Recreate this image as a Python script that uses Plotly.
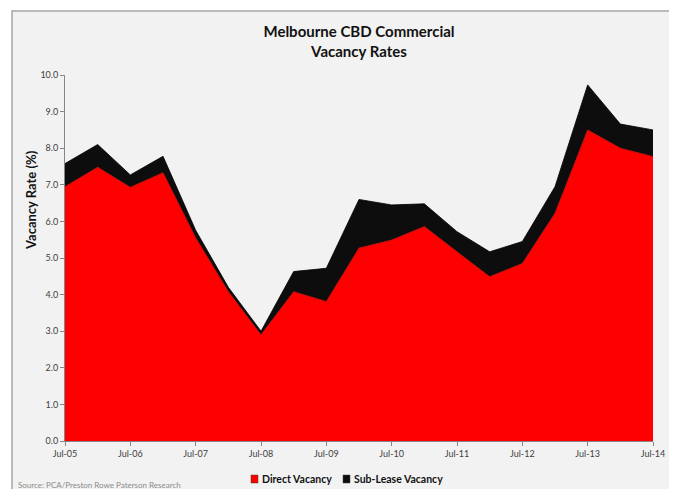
import plotly.graph_objects as go

periods = ["Jul-05", "Jan-06", "Jul-06", "Jan-07", "Jul-07", "Jan-08", "Jul-08", "Jan-09",
           "Jul-09", "Jan-10", "Jul-10", "Jan-11", "Jul-11", "Jan-12", "Jul-12", "Jan-13",
           "Jul-13", "Jan-14", "Jul-14"]
direct_vacancy = [6.95, 7.48, 6.93, 7.33, 5.55, 4.08, 2.9, 4.08, 3.81, 5.27, 5.49, 5.86,
                  5.17, 4.49, 4.85, 6.22, 8.5, 8.0, 7.77]
total_vacancy = [7.58, 8.1, 7.27, 7.78, 5.76, 4.2, 3.0, 4.63, 4.72, 6.6, 6.45, 6.48,
                 5.72, 5.17, 5.45, 6.95, 9.73, 8.66, 8.5]
sublease_vacancy = [round(t - d, 2) for t, d in zip(total_vacancy, direct_vacancy)]
tick_labels = periods[::2]
y_ticks = [0, 1, 2, 3, 4, 5, 6, 7, 8, 9, 10]
series_names = ["Direct Vacancy", "Sub-Lease Vacancy"]
series_fill = ["#ff0000", "#0d0d0d"]
series_line = ["#c00000", "#000000"]

font_fam = "Lato, 'Open Sans', Arial, sans-serif"

fig = go.Figure()
for name, vals, fc, lc in zip(series_names, [direct_vacancy, sublease_vacancy], series_fill, series_line):
    fig.add_trace(go.Scatter(
        x=periods, y=vals, name=name, stackgroup="one", showlegend=False,
        mode="lines", line=dict(color=lc, width=0.8), fillcolor=fc,
    ))

# page body adds an 8px offset; design in window pixels and subtract it
OFF = 8
W, H = 677 - OFF, 489 - OFF
L = 65 - OFF
R = W - (653 - OFF)
T = 75 - OFF
B = H - (441 - OFF)
pw, ph = W - L - R, H - T - B


def px_x(wx):
    return (wx - OFF - L) / pw


def px_y(wy):
    return (T + ph - (wy - OFF)) / ph


shapes = [dict(type="rect", xref="paper", yref="paper", layer="below",
               x0=px_x(12), x1=px_x(673), y0=px_y(495), y1=px_y(11),
               fillcolor="#f2f2f2", line=dict(color="#a6a6a6", width=1.5))]
annotations = [
    dict(text="Source: PCA/Preston Rowe Paterson Research", xref="paper",
         yref="paper", x=px_x(16), y=px_y(485), xanchor="left",
         yanchor="middle", showarrow=False,
         font=dict(size=8, color="#8c8c8c", family=font_fam)),
    dict(text="<b>Vacancy Rate (%)</b>", xref="paper", yref="paper",
         x=px_x(31), y=px_y(200), xanchor="center", yanchor="middle",
         textangle=-90, showarrow=False,
         font=dict(size=13, color="#111111", family=font_fam)),
]

# custom legend (square keys + bold labels)
legend_key_x = [251, 343]
legend_y = 479
for name, fc, kx in zip(series_names, series_fill, legend_key_x):
    shapes.append(dict(type="rect", xref="paper", yref="paper",
                       x0=px_x(kx), x1=px_x(kx + 7), y0=px_y(legend_y + 4), y1=px_y(legend_y - 4),
                       fillcolor=fc, line=dict(color="#404040", width=0.5)))
    annotations.append(dict(text="<b>" + name + "</b>", xref="paper", yref="paper",
                            x=px_x(kx + 9), y=px_y(legend_y), xanchor="left", yanchor="middle",
                            showarrow=False,
                            font=dict(size=10.5, color="#111111", family=font_fam)))

fig.update_layout(
    width=W, height=H,
    paper_bgcolor="white", plot_bgcolor="rgba(0,0,0,0)",
    margin=dict(l=L, r=R, t=T, b=B, autoexpand=False),
    font=dict(family=font_fam, color="#404040"),
    title=dict(text="<b>Melbourne CBD Commercial<br>Vacancy Rates</b>",
               x=0.5, xref="paper", xanchor="center", y=1 - 29 / H, yref="container",
               yanchor="middle",
               font=dict(size=15, color="#111111", family=font_fam)),
    showlegend=False,
    xaxis=dict(type="category", range=[0, len(periods) - 1], automargin=False,
               tickmode="array", tickvals=tick_labels, ticktext=tick_labels,
               showgrid=False, showline=True, linecolor="#868686", linewidth=1,
               ticks="outside", ticklen=4, tickcolor="#868686",
               tickfont=dict(size=9, color="#404040"), zeroline=False),
    yaxis=dict(range=[0, 10], tickmode="array", tickvals=y_ticks, tickformat=".1f",
               automargin=False,
               showgrid=False, showline=True, linecolor="#868686", linewidth=1,
               ticks="outside", ticklen=4, tickcolor="#868686",
               tickfont=dict(size=9, color="#404040"), zeroline=False),
    shapes=shapes,
    annotations=annotations,
)

fig.write_html("out.html")
